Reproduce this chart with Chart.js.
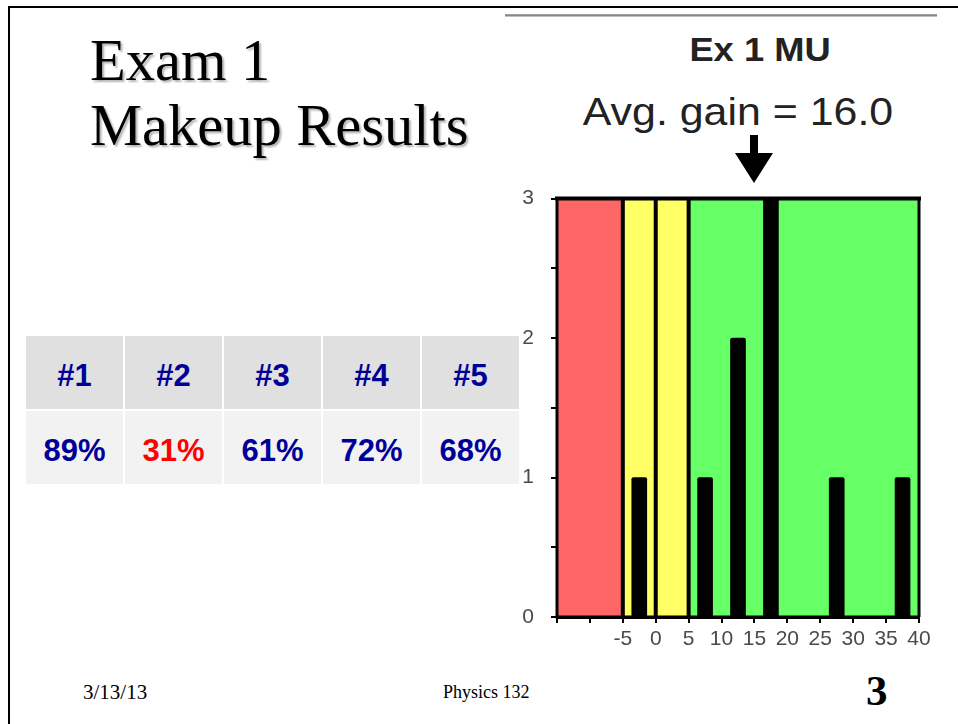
<!DOCTYPE html>
<html>
<head>
<meta charset="utf-8">
<script src="https://cdn.jsdelivr.net/npm/chart.js@4"></script>
<style>
  html, body { margin: 0; padding: 0; background: #fff; }
  body { width: 958px; height: 724px; position: relative; overflow: hidden; }
  .frame { position: absolute; left: 8px; top: 6px; width: 1100px; height: 900px;
           border-top: 2.5px solid #000; border-left: 2px solid #000; }
  .title { position: absolute; left: 90px; top: 28px; font-family: 'Liberation Serif', 'Times New Roman', serif;
           font-size: 58.5px; line-height: 65px; color: #000; text-shadow: 2px 2px 2px rgba(0,0,0,0.3); }
  .imgline { position: absolute; left: 505px; top: 14px; width: 432px; height: 3px;
             background: linear-gradient(#aaa, #888, #ddd); }
  .head { position: absolute; width: 420px; text-align: center; font-family: 'Liberation Sans', Arial, sans-serif;
          color: #222; line-height: 1; transform: scaleX(1.1); transform-origin: center; white-space: nowrap; }
  table.res { position: absolute; left: 24px; top: 334px; border-collapse: separate; border-spacing: 2px 2px;
              font-family: 'Liberation Sans', Arial, sans-serif; font-weight: bold; font-size: 31px; color: #000099; }
  table.res td { width: 97px; height: 67px; text-align: center; padding: 6px 0 0 0; }
  table.res tr.hd td { background: #e0e0e0; }
  table.res tr.vl td { background: #f2f2f2; }
  .foot { position: absolute; font-family: 'Liberation Serif', 'Times New Roman', serif; color: #000; line-height: 1; white-space: nowrap; }
  #wrap { position: absolute; left: 500px; top: 169px; width: 440px; height: 481px; }
</style>
</head>
<body>
<div class="frame"></div>
<div class="title">Exam 1<br>Makeup Results</div>
<div class="imgline"></div>

<div class="head" style="left:550px; top:33px; font-size:33px; font-weight:bold;">Ex 1 MU</div>
<div class="head" style="left:528px; top:92px; font-size:39px;">Avg. gain = 16.0</div>
<svg style="position:absolute; left:730px; top:130px;" width="50" height="60">
  <rect x="20" y="5" width="8" height="22" fill="#000"/>
  <polygon points="5,23 43,23 24,53" fill="#000"/>
</svg>

<table class="res" id="res"></table>

<div id="wrap"><canvas id="chart" width="440" height="481"></canvas></div>

<div class="foot" style="left:83px; top:682px; font-size:21px;">3/13/13</div>
<div class="foot" style="left:443px; top:683px; font-size:18px;">Physics 132</div>
<div class="foot" style="left:866px; top:669px; font-size:43px; font-weight:bold;">3</div>

<script>
// table of exam scores
const examNames = ['#1', '#2', '#3', '#4', '#5'];
const examScores = ['89%', '31%', '61%', '72%', '68%'];
const scoreColors = ['#000099', '#ff0000', '#000099', '#000099', '#000099'];

// histogram of gains (bin centers and counts)
const binCenters = [-2.5, 7.5, 12.5, 17.5, 27.5, 37.5];
const binCounts = [1, 1, 2, 3, 1, 1];

// background zones
const zoneStart = [-15, -5, 5];
const zoneEnd = [-5, 5, 40];
const zoneColors = ['#ff6666', '#ffff66', '#66ff66'];
const dividers = [-5, 0, 5];

const xMin = -15, xMax = 40, xStep = 5;
const yMin = 0, yMax = 3, yStep = 0.5;

const tbl = document.getElementById('res');
let hd = '<tr class="hd">', vl = '<tr class="vl">';
examNames.forEach((n, i) => {
  hd += '<td>' + n + '</td>';
  vl += '<td style="color:' + scoreColors[i] + '">' + examScores[i] + '</td>';
});
tbl.innerHTML = hd + '</tr>' + vl + '</tr>';

const zonesPlugin = {
  id: 'zones',
  beforeDatasetsDraw(chart) {
    const { ctx, scales: { x, y } } = chart;
    const top = y.getPixelForValue(yMax), bottom = y.getPixelForValue(yMin);
    ctx.save();
    zoneStart.forEach((s, i) => {
      const x0 = x.getPixelForValue(s), x1 = x.getPixelForValue(zoneEnd[i]);
      ctx.fillStyle = zoneColors[i];
      ctx.fillRect(x0, top, x1 - x0, bottom - top);
    });
    ctx.strokeStyle = '#000';
    ctx.lineWidth = 4;
    dividers.forEach(d => {
      const px = x.getPixelForValue(d);
      ctx.beginPath();
      ctx.moveTo(px, top);
      ctx.lineTo(px, bottom);
      ctx.stroke();
    });
    ctx.restore();
  },
  afterDatasetsDraw(chart) {
    const { ctx, chartArea: a } = chart;
    ctx.save();
    ctx.strokeStyle = '#000';
    ctx.lineWidth = 3;
    ctx.beginPath();
    ctx.moveTo(a.left, a.top); ctx.lineTo(a.left, a.bottom); ctx.lineTo(a.right, a.bottom);
    ctx.moveTo(a.right, a.top); ctx.lineTo(a.right, a.bottom);
    ctx.stroke();
    ctx.lineWidth = 4;
    ctx.beginPath();
    ctx.moveTo(a.left - 2, a.top); ctx.lineTo(a.right + 2, a.top);
    ctx.stroke();
    ctx.restore();
  }
};

const tickFont = { family: "'Liberation Sans', Arial, sans-serif", size: 21 };

new Chart(document.getElementById('chart').getContext('2d'), {
  type: 'bar',
  data: {
    datasets: [{
      data: binCenters.map((c, i) => ({ x: c, y: binCounts[i] })),
      backgroundColor: '#000',
      barThickness: 15,
      borderRadius: { topLeft: 2, topRight: 2 },
      borderSkipped: 'bottom'
    }]
  },
  options: {
    responsive: false,
    animation: false,
    layout: { padding: { top: 0, right: 21, left: 0, bottom: 0 } },
    plugins: { legend: { display: false }, tooltip: { enabled: false } },
    scales: {
      x: {
        type: 'linear', min: xMin, max: xMax, offset: false,
        grid: { drawOnChartArea: false, drawTicks: true, tickLength: 6, color: '#000', lineWidth: 2, offset: false },
        border: { color: '#000', width: 3 },
        ticks: {
          stepSize: xStep, autoSkip: false, maxRotation: 0, padding: 4, color: '#4a4a4a', font: tickFont,
          callback: v => (v >= -5 ? String(v) : '')
        },
        afterFit(scale) { scale.height = 33; }
      },
      y: {
        min: yMin, max: yMax,
        grid: { drawOnChartArea: false, drawTicks: true, tickLength: 6, color: '#000', lineWidth: 2 },
        border: { color: '#000', width: 3 },
        ticks: {
          stepSize: yStep, padding: 17, color: '#4a4a4a', font: tickFont,
          callback: v => (Number.isInteger(v) ? String(v) : '')
        },
        afterFit(scale) { scale.width = 57; }
      }
    }
  },
  plugins: [zonesPlugin]
});
</script>
</body>
</html>
